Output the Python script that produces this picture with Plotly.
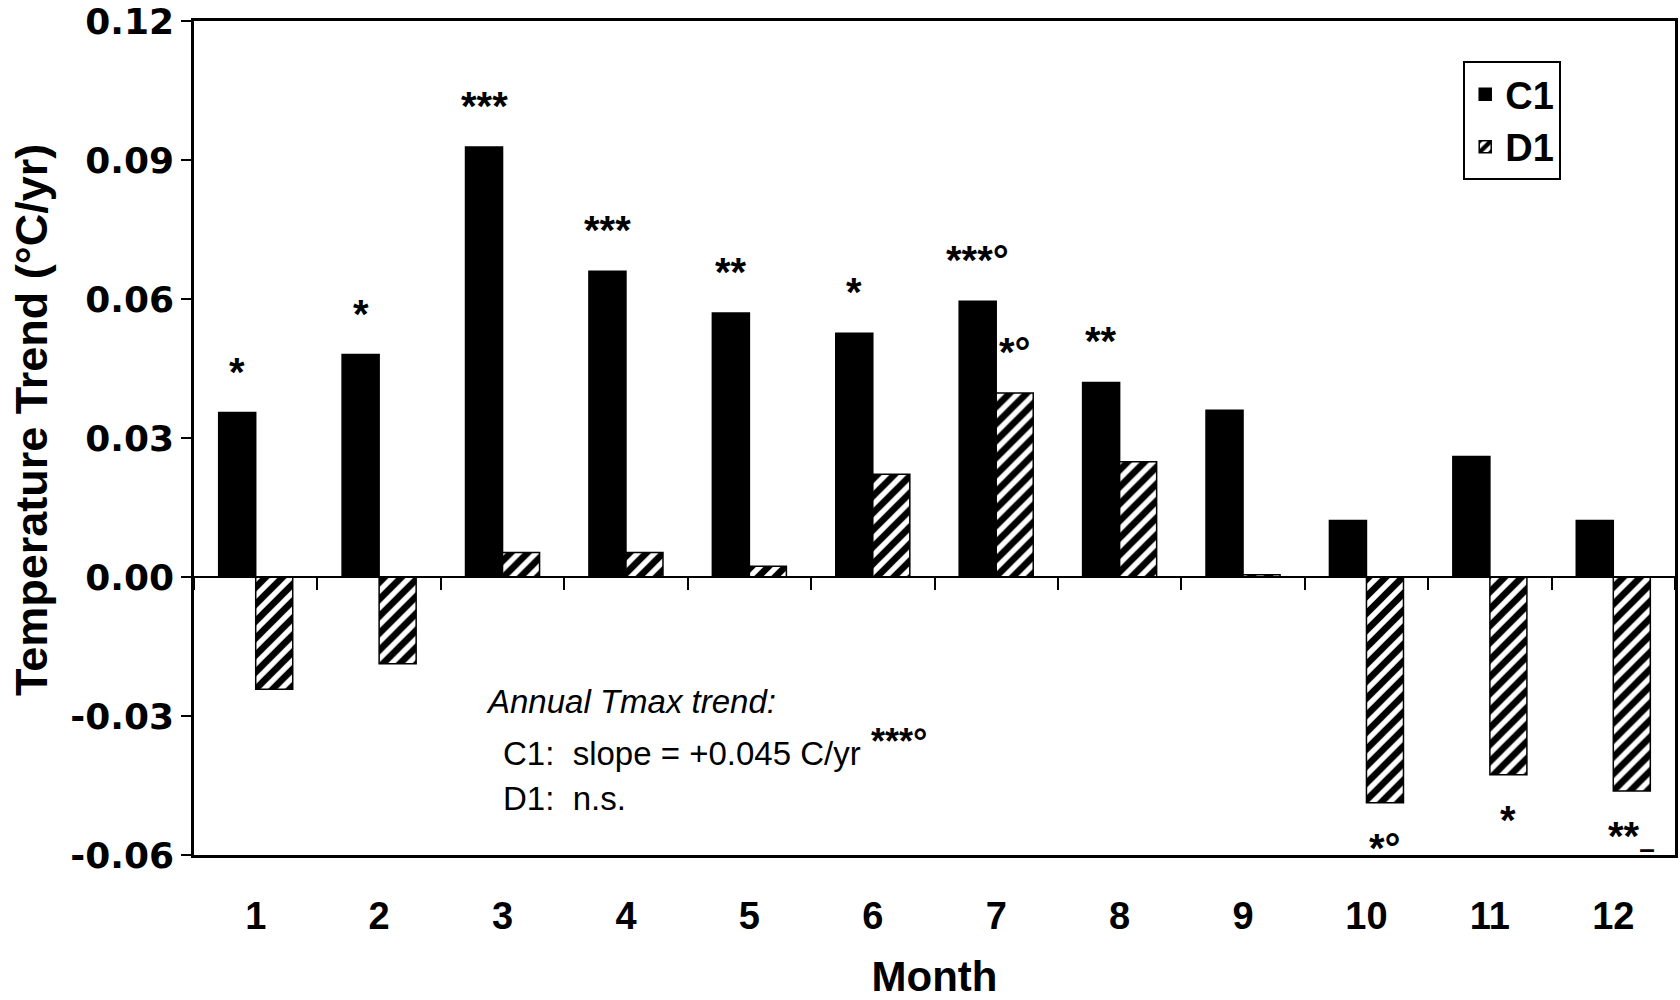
import plotly.graph_objects as go

months = list(range(1, 13))
month_labels = [str(m) for m in months]
c1_trend = [0.0355, 0.048, 0.0928, 0.066, 0.057, 0.0526, 0.0595, 0.042, 0.036, 0.0122, 0.026, 0.0122]
d1_trend = [-0.0242, -0.0187, 0.0053, 0.0053, 0.0023, 0.0222, 0.0397, 0.0249, 0.0005, -0.0487, -0.0427, -0.0462]
c1_sig = ["*", "*", "***", "***", "**", "*", "***°", "**", "", "", "", ""]
d1_sig = ["", "", "", "", "", "", "*°", "", "", "*°", "*", "**<sub>–</sub>"]
y_ticks = [-0.06, -0.03, 0.0, 0.03, 0.06, 0.09, 0.12]
y_range = [-0.06, 0.12]
x_range = [0.5, 12.5]
boundaries = [m + 0.5 for m in [0] + months]

FONT = "Liberation Sans, Arial, sans-serif"
WIDE = "DejaVu Sans, sans-serif"

fig = go.Figure()
fig.add_trace(go.Bar(
    x=months, y=c1_trend, name="C1",
    marker=dict(color="black", line=dict(color="black", width=1.5)),
))
fig.add_trace(go.Bar(
    x=months, y=d1_trend, name="D1",
    marker=dict(color="white", line=dict(color="black", width=1.5),
                pattern=dict(shape="/", fgcolor="black", bgcolor="white", fgopacity=1,
                             size=12, solidity=0.55)),
))
# empty helper trace so that the zero-line axis (x2) is created
fig.add_trace(go.Scatter(x=[None], y=[None], xaxis="x2", yaxis="y",
                         showlegend=False, hoverinfo="skip", mode="markers"))

bargap = 0.4
half = (1 - bargap) / 4  # offset of each bar centre from category centre

sig_font = dict(family=FONT, size=40, color="black", weight="bold")
annotations = []
for offset, vals, sigs in ((-half, c1_trend, c1_sig), (half, d1_trend, d1_sig)):
    for m, v, s in zip(months, vals, sigs):
        if s:
            annotations.append(dict(x=m + offset, y=v, xref="x", yref="y", text=s, showarrow=False,
                                    yanchor="bottom" if v >= 0 else "top",
                                    yshift=17 if v >= 0 else -21,
                                    font=sig_font))

annotations += [
    dict(x=-0.1094, y=0.5216, xref="paper", yref="paper", xanchor="center", yanchor="middle",
         text="<b>Temperature Trend (°C/yr)</b>", textangle=-90, showarrow=False,
         font=dict(family=FONT, size=45, color="black")),
    dict(x=0.196, y=0.1835, xref="paper", yref="paper", xanchor="left", yanchor="middle",
         text="<i>Annual Tmax trend:</i>", showarrow=False,
         font=dict(family=FONT, size=33, color="black")),
    dict(x=0.207, y=0.122, xref="paper", yref="paper", xanchor="left", yanchor="middle",
         text="C1:  slope = +0.045 C/yr", showarrow=False,
         font=dict(family=FONT, size=33, color="black")),
    dict(x=0.456, y=0.136, xref="paper", yref="paper", xanchor="left", yanchor="middle",
         text="***°", showarrow=False,
         font=dict(family=FONT, size=36, color="black", weight="bold")),
    dict(x=0.207, y=0.068, xref="paper", yref="paper", xanchor="left", yanchor="middle",
         text="D1:  n.s.", showarrow=False,
         font=dict(family=FONT, size=33, color="black")),
]

zero_pos = (0 - y_range[0]) / (y_range[1] - y_range[0])

fig.update_layout(
    width=1680, height=1000,
    margin=dict(l=194, r=5, t=21, b=145, autoexpand=False),
    paper_bgcolor="white", plot_bgcolor="white",
    barmode="group", bargap=bargap, bargroupgap=0,
    showlegend=True,
    legend=dict(x=0.857, y=0.952, xanchor="left", yanchor="top",
                bordercolor="black", borderwidth=2, bgcolor="white",
                font=dict(family=FONT, size=38, color="black", weight="bold")),
    annotations=annotations,
    xaxis=dict(range=x_range, tickvals=months, ticktext=[f"<b>{t}</b>" for t in month_labels],
               showline=True, linecolor="black", linewidth=2.5, mirror=True, automargin=False,
               ticks="", showgrid=False, zeroline=False, ticklabelstandoff=26,
               tickfont=dict(family=FONT, size=38, color="black"),
               title=dict(text="<b>Month</b>", font=dict(family=FONT, size=42, color="black"), standoff=32)),
    xaxis2=dict(range=x_range, overlaying="x", anchor="free", position=zero_pos, side="bottom",
                tickvals=boundaries, showticklabels=False, ticks="outside", ticklen=12,
                tickwidth=2, tickcolor="black", automargin=False,
                showline=True, linecolor="black", linewidth=1.5, showgrid=False, zeroline=False),
    yaxis=dict(range=y_range, tickvals=y_ticks, ticktext=[f"<b>{t:.2f}</b>" for t in y_ticks],
               showline=True, linecolor="black", linewidth=2.5, mirror=True, automargin=False,
               ticks="outside", ticklen=10, tickwidth=1.5, tickcolor="black",
               showgrid=False, zeroline=False,
               tickfont=dict(family=WIDE, size=36, color="black")),
)

fig.write_html("out.html")
